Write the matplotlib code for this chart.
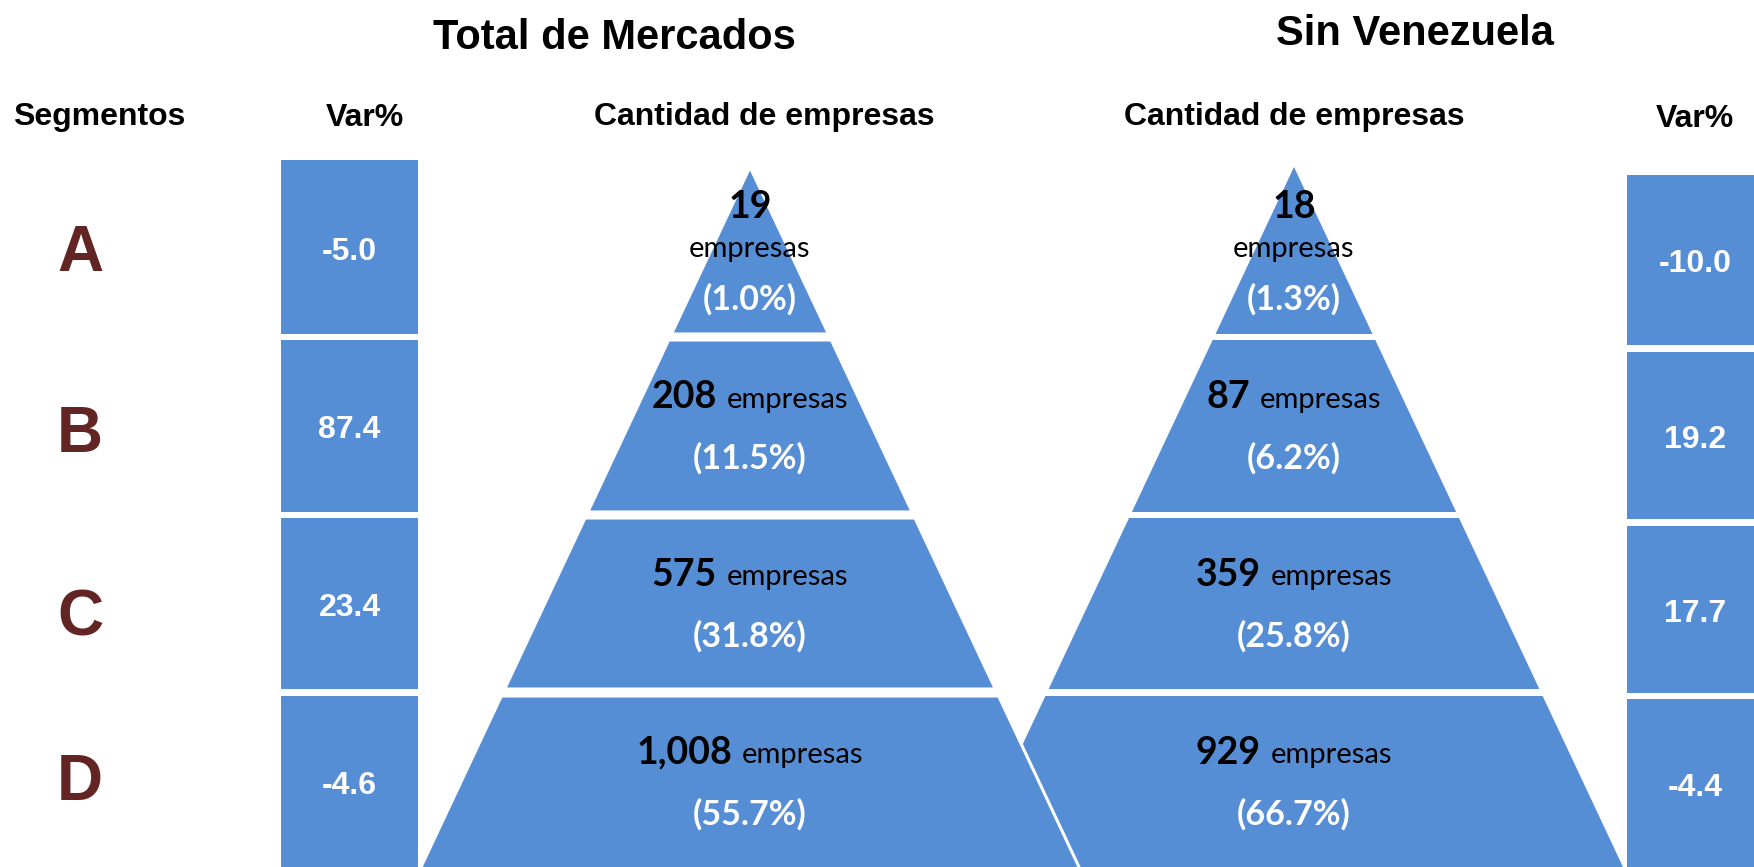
import matplotlib
matplotlib.use("Agg")
import matplotlib.pyplot as plt
from matplotlib.patches import Polygon

# datos
segmentos = ["A", "B", "C", "D"]
empresas_total = [19, 208, 575, 1008]
pct_total = [1.0, 11.5, 31.8, 55.7]
var_total = [-5.0, 87.4, 23.4, -4.6]
empresas_sin_ven = [18, 87, 359, 929]
pct_sin_ven = [1.3, 6.2, 25.8, 66.7]
var_sin_ven = [-10.0, 19.2, 17.7, -4.4]

AZUL = "#558ED5"
GRANATE = "#632523"
ARIAL = "Liberation Sans"
CALIBRI = "Lato"

W, H = 1754, 867
fig = plt.figure(figsize=(W / 100, H / 100), dpi=100)
ax = fig.add_axes([0, 0, 1, 1])
ax.set_xlim(0, W)
ax.set_ylim(H, 0)
ax.axis("off")

# filas de la piramide / barras (en pixeles)
filas = [(167, 334), (340, 512), (518, 689), (696, 890)]
filas_var_izq = [(160, 334), (340, 512), (518, 689), (696, 890)]
filas_var_der = [(175, 345), (352, 519), (526, 693), (699, 890)]
base_letras = [271, 452, 635, 800]

apex_y = 167
pendiente = 329 / 700.0
cx_izq, cx_der = 750, 1294
x_var_izq, x_var_der = 349.5, 1695
ancho_var = 137


def piramide(cx, edge=None, lw=0):
    for (y0, y1) in filas:
        h0 = pendiente * (y0 - apex_y)
        h1 = pendiente * (y1 - apex_y)
        pts = [(cx - h0, y0), (cx + h0, y0), (cx + h1, y1), (cx - h1, y1)]
        ax.add_patch(Polygon(pts, closed=True, facecolor=AZUL,
                             edgecolor=edge if edge else AZUL,
                             linewidth=lw, zorder=2))


# derecha primero, la izquierda encima con borde blanco
piramide(cx_der)
piramide(cx_izq, edge="white", lw=2.2)

# barras de variacion
for filas_v, xv, vals in [(filas_var_izq, x_var_izq, var_total),
                          (filas_var_der, x_var_der, var_sin_ven)]:
    for (y0, y1), v in zip(filas_v, vals):
        ax.bar(xv, y1 - y0, bottom=y0, width=ancho_var, color=AZUL, zorder=2)
        yc = (y0 + min(y1, 867)) / 2 + 12.5
        ax.text(xv, yc, f"{v:.1f}", ha="center", va="baseline", color="white",
                fontsize=23, fontweight="bold", family=ARIAL, zorder=5)

# letras de segmento
for s, yb in zip(segmentos, base_letras):
    ax.text(80, yb, s, ha="center", va="baseline", color=GRANATE,
            fontsize=46, fontweight="bold", family=ARIAL)

# titulos
ax.text(614, 49, "Total de Mercados", ha="center", va="baseline",
        fontsize=30, fontweight="bold", family=ARIAL)
ax.text(1415, 45, "Sin Venezuela", ha="center", va="baseline",
        fontsize=30, fontweight="bold", family=ARIAL)
ax.text(99, 125, "Segmentos", ha="center", va="baseline",
        fontsize=23, fontweight="bold", family=ARIAL)
ax.text(365, 126, "Var%", ha="center", va="baseline",
        fontsize=23, fontweight="bold", family=ARIAL)
ax.text(764, 125, "Cantidad de empresas", ha="center", va="baseline",
        fontsize=23, fontweight="bold", family=ARIAL)
ax.text(1294, 125, "Cantidad de empresas", ha="center", va="baseline",
        fontsize=23, fontweight="bold", family=ARIAL)
ax.text(1695, 127, "Var%", ha="center", va="baseline",
        fontsize=23, fontweight="bold", family=ARIAL)

rend = fig.canvas.get_renderer()

T_NUM, T_EMP, T_PCT = 27, 21, 24.5


def linea_mixta(x, y, num):
    t1 = ax.text(x, y, num, ha="left", va="baseline", fontsize=T_NUM,
                 fontweight="bold", family=CALIBRI, zorder=5)
    t2 = ax.text(x, y, "empresas", ha="left", va="baseline", fontsize=T_EMP,
                 family=CALIBRI, zorder=5)
    w1 = t1.get_window_extent(rend).width
    w2 = t2.get_window_extent(rend).width
    gap = 10
    x0 = x - (w1 + gap + w2) / 2
    t1.set_x(x0)
    t2.set_x(x0 + w1 + gap)


for cx, nums, pcts in [(cx_izq, empresas_total, pct_total),
                       (cx_der, empresas_sin_ven, pct_sin_ven)]:
    # segmento A: tres lineas
    ax.text(cx, 218, f"{nums[0]:,}", ha="center", va="baseline", fontsize=T_NUM,
            fontweight="bold", family=CALIBRI, zorder=5)
    ax.text(cx, 257, "empresas", ha="center", va="baseline", fontsize=T_EMP,
            family=CALIBRI, zorder=5)
    ax.text(cx, 310, f"({pcts[0]:.1f}%)", ha="center", va="baseline",
            fontsize=T_PCT, fontweight="bold", color="white", family=CALIBRI,
            zorder=5)
    for (y0, y1), n, p in zip(filas[1:], nums[1:], pcts[1:]):
        yc = (y0 + min(y1, 867)) / 2
        linea_mixta(cx, yc - 18, f"{n:,}")
        ax.text(cx, yc + 43, f"({p:.1f}%)", ha="center", va="baseline",
                fontsize=T_PCT, fontweight="bold", color="white", family=CALIBRI,
                zorder=5)

fig.savefig("out.png", dpi=100)
